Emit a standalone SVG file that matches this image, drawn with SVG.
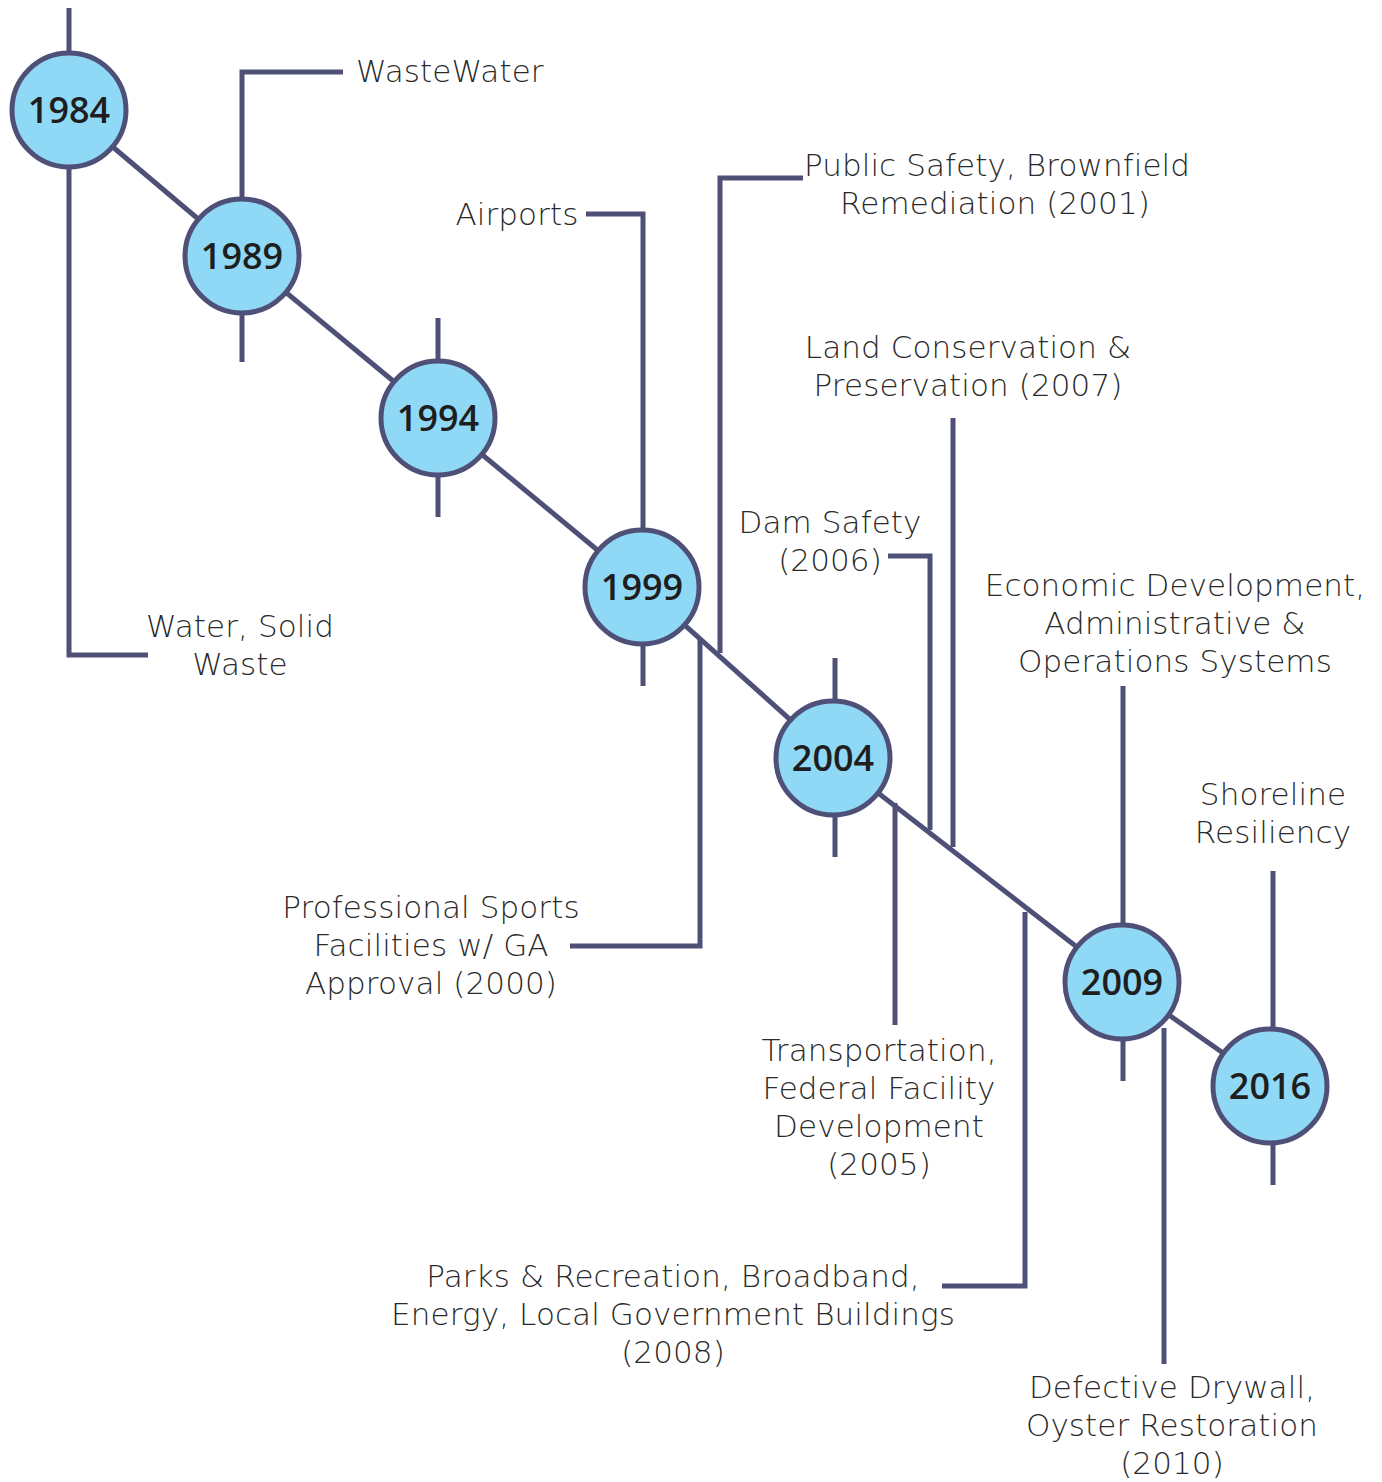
<svg xmlns="http://www.w3.org/2000/svg" width="1382" height="1482" viewBox="0 0 1382 1482">
<style>
.ln{fill:none;stroke:#4f5077;stroke-width:5;stroke-linecap:butt;stroke-linejoin:miter}
.yr circle{fill:#8fd9f6;stroke:#4f5077;stroke-width:5}
.yr text{font-family:"Open Sans","DejaVu Sans",sans-serif;font-weight:600;font-size:36px;fill:#1e1e1e;text-anchor:middle}
.lb{font-family:"DejaVu Sans","Liberation Sans",sans-serif;font-weight:200;font-size:31px;letter-spacing:0.1px;fill:#2a2a2a;text-anchor:middle}
.ls{text-anchor:start}
</style>
<rect width="1382" height="1482" fill="#ffffff"/>
<g id="connectors" class="ln">
<polyline points="69,110 242,256 438,418 642,587 833,758 1122,982 1270,1086"/>
<line x1="69" y1="8" x2="69" y2="60"/>
<polyline points="69,160 69,655 148,655"/>
<polyline points="242,200 242,72 343,72"/>
<line x1="242" y1="310" x2="242" y2="362"/>
<line x1="438" y1="318" x2="438" y2="370"/>
<line x1="438" y1="470" x2="438" y2="517"/>
<polyline points="643,535 643,214 586,214"/>
<line x1="643" y1="640" x2="643" y2="686"/>
<polyline points="720,653 720,178 803,178"/>
<polyline points="700,638 700,946 570,946"/>
<line x1="835" y1="658" x2="835" y2="710"/>
<line x1="835" y1="810" x2="835" y2="857"/>
<line x1="895" y1="803" x2="895" y2="1025"/>
<polyline points="888,556 930,556 930,830"/>
<line x1="953" y1="418" x2="953" y2="847"/>
<polyline points="1025,912 1025,1286 942,1286"/>
<line x1="1123" y1="686" x2="1123" y2="930"/>
<line x1="1123" y1="1035" x2="1123" y2="1081"/>
<line x1="1164" y1="1028" x2="1164" y2="1364"/>
<line x1="1273" y1="871" x2="1273" y2="1035"/>
<line x1="1273" y1="1140" x2="1273" y2="1185"/>
</g>
<g id="n1984" class="yr"><circle cx="69" cy="110" r="57"/><text x="69" y="123">1984</text></g>
<g id="n1989" class="yr"><circle cx="242" cy="256" r="57"/><text x="242" y="269">1989</text></g>
<g id="n1994" class="yr"><circle cx="438" cy="418" r="57"/><text x="438" y="431">1994</text></g>
<g id="n1999" class="yr"><circle cx="642" cy="587" r="57"/><text x="642" y="600">1999</text></g>
<g id="n2004" class="yr"><circle cx="833" cy="758" r="57"/><text x="833" y="771">2004</text></g>
<g id="n2009" class="yr"><circle cx="1122" cy="982" r="57"/><text x="1122" y="995">2009</text></g>
<g id="n2016" class="yr"><circle cx="1270" cy="1086" r="57"/><text x="1270" y="1099">2016</text></g>
<g id="labels">
<text class="lb ls" x="356" y="82">WasteWater</text>
<text class="lb" x="240" y="637">Water, Solid</text>
<text class="lb" x="240" y="675">Waste</text>
<text class="lb" x="517" y="225">Airports</text>
<text class="lb" x="997" y="176">Public Safety, Brownfield</text>
<text class="lb" x="995" y="214">Remediation (2001)</text>
<text class="lb" x="968" y="358">Land Conservation &amp;</text>
<text class="lb" x="968" y="396">Preservation (2007)</text>
<text class="lb" x="830" y="533">Dam Safety</text>
<text class="lb" x="830" y="571">(2006)</text>
<text class="lb" x="1175" y="596">Economic Development,</text>
<text class="lb" x="1175" y="634">Administrative &amp;</text>
<text class="lb" x="1175" y="672">Operations Systems</text>
<text class="lb" x="1273" y="805">Shoreline</text>
<text class="lb" x="1273" y="843">Resiliency</text>
<text class="lb" x="431" y="918">Professional Sports</text>
<text class="lb" x="431" y="956">Facilities w/ GA</text>
<text class="lb" x="431" y="994">Approval (2000)</text>
<text class="lb" x="879" y="1061">Transportation,</text>
<text class="lb" x="879" y="1099">Federal Facility</text>
<text class="lb" x="879" y="1137">Development</text>
<text class="lb" x="879" y="1175">(2005)</text>
<text class="lb" x="673" y="1287">Parks &amp; Recreation, Broadband,</text>
<text class="lb" x="673" y="1325">Energy, Local Government Buildings</text>
<text class="lb" x="673" y="1363">(2008)</text>
<text class="lb" x="1172" y="1398">Defective Drywall,</text>
<text class="lb" x="1172" y="1436">Oyster Restoration</text>
<text class="lb" x="1172" y="1474">(2010)</text>
</g>
</svg>
